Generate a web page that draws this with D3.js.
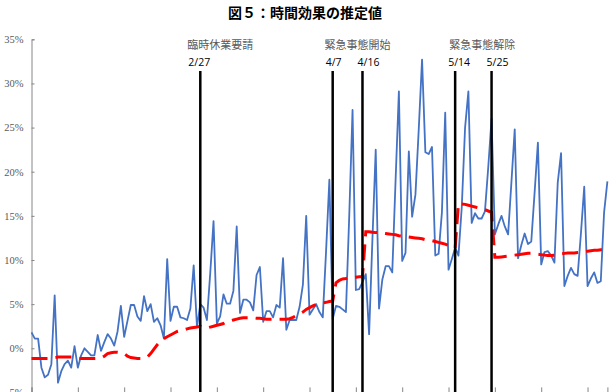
<!DOCTYPE html>
<html><head><meta charset="utf-8">
<script src="https://cdn.jsdelivr.net/npm/d3@7"></script>
<style>
html,body{margin:0;padding:0;background:#fff;}
svg{display:block;}
</style>
</head><body>
<svg id="chart" width="609" height="392"></svg>
<script>
// ---- data ----
const startDate = "2020-01-07";
// daily estimated time effect (%), blue
const dailyEffect = [
 1.8, 1.1, 1.1, -2.2, -3.3, -3.0, -1.8, 6.0, -3.9, -2.6,
 -1.8, -1.4, -2.2, 0.25, -2.2, -0.8, 0.0, -0.4, -0.8, -0.8,
 1.5, -0.3, 0.7, 1.6, 1.1, 0.3, 1.9, 4.8, 1.3, 3.1,
 4.9, 4.9, 3.6, 3.1, 5.9, 4.2, 5.0, 3.0, 3.4, 2.6,
 1.1, 10.1, 3.1, 4.7, 4.7, 3.5, 3.4, 3.2, 4.5, 9.4,
 2.4, 5.0, 4.6, 3.2, 8.5, 14.4, 2.8, 3.6, 6.1, 5.05,
 5.05, 6.5, 13.8, 4.0, 5.5, 5.5, 5.2, 4.3, 8.3, 9.2,
 3.0, 4.2, 4.2, 3.5, 4.9, 4.6, 10.2, 2.1, 3.2, 3.2,
 3.2, 4.7, 7.2, 15.0, 3.8, 4.4, 5.0, 4.1, 3.5, 11.0,
 19.1, 3.3, 4.8, 4.7, 4.4, 4.1, 15.0, 27.0, 6.6, 6.7,
 7.5, 8.4, 1.6, 12.3, 22.5, 4.5, 7.8, 9.3, 9.3, 8.6,
 19.0, 29.1, 9.9, 10.8, 22.3, 14.9, 17.4, 24.8, 32.7, 22.2,
 22.0, 22.8, 10.5, 10.7, 15.4, 26.7, 8.9, 10.1, 11.4, 10.5,
 16.0, 25.0, 29.1, 14.2, 15.3, 14.7, 14.7, 15.5, 20.5, 26.0,
 12.9, 14.0, 15.0, 13.8, 12.9, 18.8, 24.8, 10.2, 11.7, 13.0,
 11.8, 12.1, 17.6, 23.3, 9.5, 10.9, 11.0, 10.5, 9.7, 18.8,
 22.1, 7.05, 8.2, 9.1, 8.4, 8.2, 13.0, 18.3, 7.05, 7.9,
 8.6, 7.4, 7.6, 15.4, 18.9
];
// smoothed / period effect (%), red dashed
const trendEffect = [
 -1.15, -1.15, -1.15, -1.15, -1.15, -1.15, -1.1, -1.05, -1.0, -1.0,
 -1.0, -1.0, -1.0, -1.0, -1.1, -1.15, -1.15, -1.15, -1.15, -1.15,
 -1.15, -1.1, -0.9, -0.6, -0.5, -0.45, -0.45, -0.5, -0.6, -0.9,
 -1.05, -1.1, -1.15, -1.15, -1.1, -1.0, -0.6, -0.1, 0.4, 0.8,
 1.1, 1.3, 1.5, 1.7, 1.9, 2.0, 2.1, 2.2, 2.3, 2.35,
 2.4, 2.5, 2.4, 2.3, 2.4, 2.5, 2.6, 2.7, 2.8, 3.0,
 3.1, 3.2, 3.3, 3.4, 3.45, 3.45, 3.45, 3.45, 3.4, 3.4,
 3.35, 3.3, 3.3, 3.3, 3.3, 3.3, 3.3, 3.3, 3.35, 3.5,
 3.7, 3.9, 4.1, 4.4, 4.6, 4.8, 4.95, 5.05, 5.15, 5.2,
 5.3, 5.35, 7.4, 7.7, 7.85, 7.9, 8.0, 8.0, 8.05, 8.1,
 8.1, 13.2, 13.2, 13.15, 13.1, 13.1, 13.05, 13.0, 12.95, 12.9,
 12.85, 12.75, 12.7, 12.65, 12.6, 12.55, 12.5, 12.45, 12.4, 12.3,
 12.25, 12.2, 12.1, 12.0, 11.9, 11.8, 11.65, 11.5, 11.35, 16.4,
 16.35, 16.3, 16.2, 16.1, 16.0, 15.9, 15.8, 15.7, 15.55, 15.4,
 10.3, 10.3, 10.35, 10.4, 10.45, 10.5, 10.55, 10.6, 10.65, 10.7,
 10.75, 10.75, 10.7, 10.65, 10.6, 10.55, 10.5, 10.5, 10.55, 10.6,
 10.7, 10.75, 10.8, 10.8, 10.8, 10.85, 10.9, 10.95, 11.0, 11.05,
 11.1, 11.1, 11.15, 11.15, 11.2
];
const yTicks = [-5, 0, 5, 10, 15, 20, 25, 30, 35];
const eventDates = ["2020-02-27", "2020-04-07", "2020-04-16", "2020-05-14", "2020-05-25"];
const eventLabels = ["2/27", "4/7", "4/16", "5/14", "5/25"];
const eventNames = ["臨時休業要請", "緊急事態開始", "緊急事態解除"];
const titleText = "図５：時間効果の推定値";

// ---- drawing ----
const svg = d3.select("#chart");
const parse = d3.timeParse("%Y-%m-%d");
const t0 = parse(startDate);
const n = dailyEffect.length;

const x = d3.scaleLinear().domain([0, n - 1]).range([31.5, 607.4]);
const y = d3.scaleLinear().domain([-5, 35]).range([392.4, 39.3]);

svg.append("text")
  .attr("x", 305).attr("y", 18)
  .attr("text-anchor", "middle")
  .attr("font-family", "'Noto Sans CJK JP', sans-serif")
  .attr("font-weight", "bold")
  .attr("font-size", 14)
  .attr("fill", "#000")
  .text(titleText);

// y axis
const yAxis = d3.axisLeft(y).tickValues(yTicks).tickSize(-3).tickPadding(8)
  .tickFormat(d => d + "%");
const gy = svg.append("g").attr("transform", `translate(${x(0)},0)`).call(yAxis);
gy.select(".domain").attr("stroke", "#868686").attr("stroke-width", 1);
gy.selectAll(".tick line").attr("stroke", "#868686");
gy.selectAll(".tick text")
  .attr("font-family", "'Liberation Serif', serif")
  .attr("font-size", 10.5)
  .attr("fill", "#595959");

// x axis (ticks only visible at the bottom edge)
const xAxis = d3.axisBottom(x).tickValues(d3.range(0, n, 14)).tickSize(-5).tickFormat("");
const gx = svg.append("g").attr("transform", `translate(0,${y(-5)})`).call(xAxis);
gx.select(".domain").attr("stroke", "#868686");
gx.selectAll(".tick line").attr("stroke", "#868686");

// blue daily line
const line = d3.line().x((d, i) => x(i)).y(d => y(d));
svg.append("path").datum(dailyEffect)
  .attr("d", line)
  .attr("fill", "none")
  .attr("stroke", "#4472C4")
  .attr("stroke-width", 1.8)
  .attr("stroke-linejoin", "round");

// red dashed trend
svg.append("path").datum(trendEffect)
  .attr("d", line)
  .attr("fill", "none")
  .attr("stroke", "#FF0000")
  .attr("stroke-width", 3)
  .attr("stroke-dasharray", "16,8");

// event lines
const evIdx = eventDates.map(s => d3.timeDay.count(t0, parse(s)));
svg.selectAll("line.ev").data(evIdx).join("line")
  .attr("class", "ev")
  .attr("x1", d => x(d)).attr("x2", d => x(d))
  .attr("y1", 71).attr("y2", 392)
  .attr("stroke", "#000").attr("stroke-width", 2.5);

const labelOffsets = [-1, 1, 6, 4, 6];
svg.selectAll("text.evl").data(evIdx).join("text")
  .attr("class", "evl")
  .attr("x", (d, i) => x(d) + labelOffsets[i])
  .attr("y", 66)
  .attr("text-anchor", "middle")
  .attr("font-family", "'Open Sans', 'Noto Sans', sans-serif")
  .attr("font-size", 10.5)
  .attr("fill", "#000")
  .text((d, i) => eventLabels[i]);

const namePos = [x(evIdx[0]) + 20, (x(evIdx[1]) + x(evIdx[2])) / 2 + 10, (x(evIdx[3]) + x(evIdx[4])) / 2 + 9];
svg.selectAll("text.evn").data(eventNames).join("text")
  .attr("class", "evn")
  .attr("x", (d, i) => namePos[i])
  .attr("y", 49)
  .attr("text-anchor", "middle")
  .attr("font-family", "'Noto Sans CJK JP', sans-serif")
  .attr("font-size", 11)
  .attr("fill", "#595959")
  .text(d => d);
</script>
</body></html>
